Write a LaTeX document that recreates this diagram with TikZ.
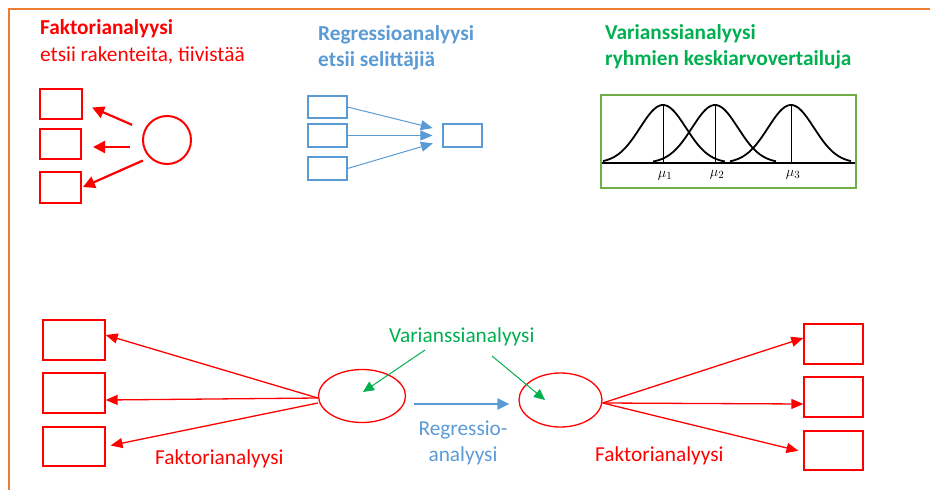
\documentclass[tikz,border=0pt]{standalone}
\usepackage{fontspec}
\setmainfont{Carlito}
\usetikzlibrary{arrows.meta,shapes.geometric}
\definecolor{fred}{RGB}{255,0,0}
\definecolor{fblue}{RGB}{91,155,213}
\definecolor{fgreen}{RGB}{0,176,80}
\definecolor{forange}{RGB}{237,125,49}
\definecolor{rgreen}{RGB}{112,173,71}
\begin{document}
\begin{tikzpicture}[x=1pt,y=-1pt,
  txt/.style={inner sep=0pt, anchor=base west, font=\fontsize{21.3}{26}\selectfont},
  boldtxt/.style={txt, font=\fontsize{21.3}{26}\selectfont\bfseries},
  topbox/.style={draw=fred, line width=2pt, inner sep=0pt},
  regbox/.style={draw=fblue, line width=1.1pt, inner sep=0pt, minimum width=39pt, minimum height=23pt},
  botbox/.style={draw=fred, line width=1.3pt, inner sep=0pt},
  toparr/.style={draw=fred, line width=2.2pt, -{Triangle[length=12pt,width=12pt]}},
  regarr/.style={draw=fblue, line width=1pt, -{Triangle[length=12pt,width=10pt]}},
  botarr/.style={draw=fred, line width=1.3pt, -{Triangle[length=12pt,width=10pt]}},
  blarr/.style={draw=fblue, line width=2.2pt, -{Triangle[length=12pt,width=11pt]}},
  grarr/.style={draw=fgreen, line width=1pt, -{Triangle[length=11pt,width=10pt]}},
  curve/.style={black, line width=1.8pt, smooth, samples=70},
  mulab/.style={font=\fontsize{15}{17}\selectfont, inner sep=0pt}
]
\useasboundingbox (0,0) rectangle (930,490);
% frame
\draw[forange, line width=1.5pt] (9,490) -- (9,9) -- (930,9);

% ---------- Faktorianalyysi (top) ----------
\node[boldtxt, text=fred] (ft1) at (40,34.5) {Faktorianalyysi};
\node[txt, text=fred] (ft2) at (40,61) {etsii rakenteita, tiivistää};
\node[topbox, minimum width=42pt, minimum height=30pt] (fb1) at (61,103.5) {};
\node[topbox, minimum width=41pt, minimum height=30pt] (fb2) at (60.5,144) {};
\node[topbox, minimum width=41pt, minimum height=31pt] (fb3) at (60.5,187.5) {};
\node[circle, draw=fred, line width=2pt, minimum size=48pt, inner sep=0pt] (circ) at (167,140) {};
\coordinate (fb2t) at ([yshift=-3pt]fb2.east);
\draw[toparr, shorten <=13pt, shorten >=10pt] (circ) -- (fb1.east);
\draw[toparr, shorten <=12pt, shorten >=11pt] (circ.west |- fb2t) -- (fb2t);
\draw[toparr, shorten <=7pt, shorten >=1pt] (circ.225) -- (fb3.east);

% ---------- Regressioanalyysi (top) ----------
\node[boldtxt, text=fblue] (rt1) at (318,40) {Regressioanalyysi};
\node[boldtxt, text=fblue] (rt2) at (318,66) {etsii selittäjiä};
\node[regbox, minimum height=22pt] (rx1) at (327.5,107) {};
\node[regbox] (rx2) at (327.5,135.5) {};
\node[regbox] (rx3) at (327.5,168.5) {};
\node[regbox] (ry) at (462.5,135.5) {};
\draw[regarr, shorten >=10pt] (rx1.east) -- ([yshift=5pt]ry.west);
\draw[regarr, shorten >=10pt] (rx2.east) -- (ry.west);
\draw[regarr, shorten >=10pt] (rx3.east) -- ([yshift=-5pt]ry.west);

% ---------- Varianssianalyysi (top) ----------
\node[boldtxt, text=fgreen] (vt1) at (605,39.5) {Varianssianalyysi};
\node[boldtxt, text=fgreen] (vt2) at (605,65) {ryhmien keskiarvovertailuja};
\draw[rgreen, line width=1.2pt] (601,95) rectangle (856,188);
\draw[black, line width=1.8pt] (602,163) -- (855,163);
\draw[curve, domain=603:725] plot (\x,{163-58*exp(-((\x-663)^2)/1058)});
\draw[curve, domain=653:776] plot (\x,{163-58*exp(-((\x-715)^2)/1058)});
\draw[curve, domain=730:851] plot (\x,{163-58*exp(-((\x-791)^2)/1058)});
\draw[black, line width=0.6pt] (663,105) -- (663,163);
\draw[black, line width=0.6pt] (715,105) -- (715,163);
\draw[black, line width=0.6pt] (791,105) -- (791,163);
\node[mulab] (m1) at (665,176) {$\mu_1$};
\node[mulab] (m2) at (717,175) {$\mu_2$};
\node[mulab] (m3) at (793,175) {$\mu_3$};

% ---------- bottom ----------
\node[botbox, minimum width=62pt, minimum height=40pt] (lb1) at (74,340) {};
\node[botbox, minimum width=62pt, minimum height=40pt] (lb2) at (74,393) {};
\node[botbox, minimum width=62pt, minimum height=39pt] (lb3) at (74,446.5) {};
\node[ellipse, draw=fred, line width=1.3pt, minimum width=87pt, minimum height=53pt, inner sep=0pt] (le) at (362,396) {};
\node[ellipse, draw=fred, line width=1.3pt, minimum width=83pt, minimum height=54pt, inner sep=0pt] (re) at (560.5,400) {};
\node[botbox, minimum width=59pt, minimum height=40pt] (rb1) at (833.5,344) {};
\node[botbox, minimum width=59pt, minimum height=40pt] (rb2) at (833.5,397) {};
\node[botbox, minimum width=59pt, minimum height=39pt] (rb3) at (833.5,450.5) {};

\draw[botarr] ([yshift=-2pt]le.west) -- ([yshift=5pt]lb1.east);
\draw[botarr] ([yshift=-2pt]le.west) -- ([yshift=-7pt]lb2.east);
\draw[botarr, shorten >=5pt] ([yshift=-7pt]le.west) -- (lb3.east);

\draw[botarr] ([yshift=-3pt]re.east) -- ([yshift=6pt]rb1.west);
\draw[botarr] ([yshift=-3pt]re.east) -- ([yshift=-7pt]rb2.west);
\draw[botarr, shorten >=5pt] ([yshift=-3pt]re.east) -- ([yshift=-1.5pt]rb3.west);

\draw[blarr, shorten <=7.5pt, shorten >=9pt] ([yshift=-8pt]le.east) -- ([yshift=-4pt]re.west);

\node[txt, text=fgreen] (vt) at (389,342) {Varianssianalyysi};
\coordinate (g1) at (425,350);
\coordinate (g2) at (492,356);
\draw[grarr] (g1) -- ([xshift=1pt,yshift=4pt]le.center);
\draw[grarr] (g2) -- ([xshift=-15.5pt]re.center);

\node[inner sep=0pt, text=fblue, font=\fontsize{21.3}{26}\selectfont, align=center, anchor=north] (reg) at (463,421) {Regressio-\\analyysi};

\node[txt, text=fred] (fl) at (155,464) {Faktorianalyysi};
\node[txt, text=fred] (fr) at (595,461) {Faktorianalyysi};
\end{tikzpicture}
\end{document}
